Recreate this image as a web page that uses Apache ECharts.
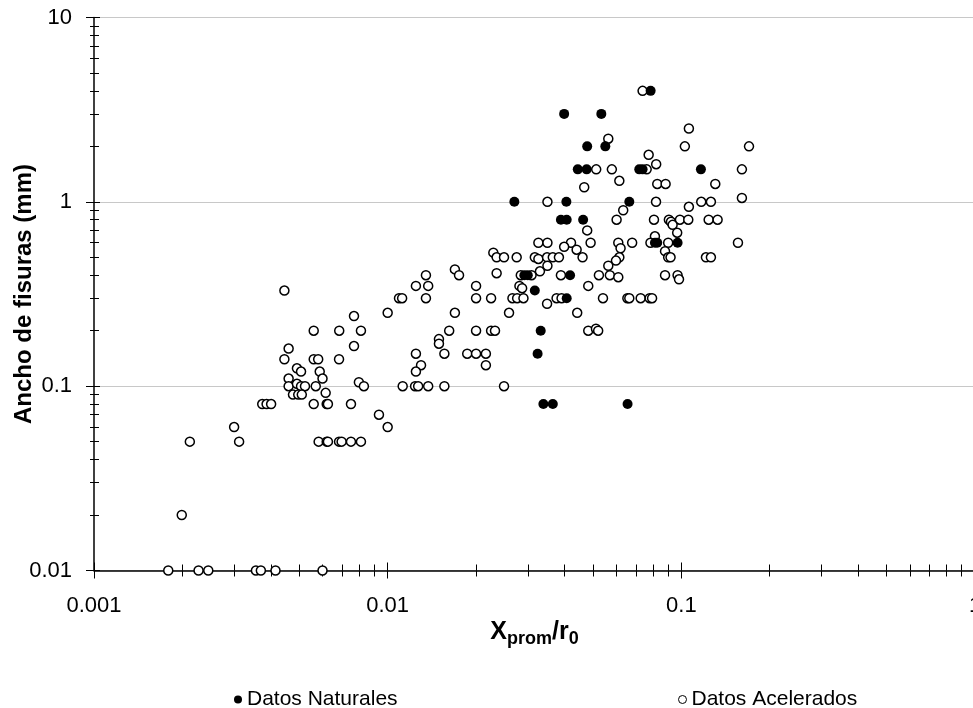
<!DOCTYPE html>
<html>
<head>
<meta charset="utf-8">
<script src="https://cdn.jsdelivr.net/npm/echarts@6/dist/echarts.min.js"></script>
<style>
  html, body { margin: 0; padding: 0; background: #fff; }
  #chart { width: 973px; height: 708px; }
</style>
</head>
<body>
<div id="chart"></div>
<script>
// ejes (log-log)
const xMin = 0.001, xMax = 1;
const yMin = 0.01, yMax = 10;

// [X_prom/r0, ancho de fisura (mm)]
const datosNaturales = [
  [0.0270, 1.0], [0.0406, 1.0], [0.0389, 0.8], [0.0407, 0.8], [0.0463, 0.8],
  [0.0292, 0.4], [0.0300, 0.4], [0.0418, 0.4], [0.0317, 0.33], [0.0407, 0.3],
  [0.0332, 0.2], [0.0324, 0.15], [0.0339, 0.08], [0.0365, 0.08],
  [0.0399, 3], [0.0534, 3], [0.0478, 2], [0.0551, 2], [0.0444, 1.5], [0.0476, 1.5],
  [0.0786, 4], [0.0719, 1.5], [0.0738, 1.5], [0.1166, 1.5], [0.0665, 1.0],
  [0.0813, 0.6], [0.0828, 0.6], [0.0971, 0.6], [0.0656, 0.08]
];

const datosAcelerados = [
  // zona baja
  [0.00445, 0.33], [0.0056, 0.2], [0.00684, 0.2], [0.0046, 0.16], [0.00445, 0.14],
  [0.0056, 0.14], [0.0058, 0.14], [0.00683, 0.14], [0.00491, 0.125], [0.00507, 0.12],
  [0.00587, 0.12], [0.006, 0.11], [0.0046, 0.11], [0.0046, 0.1], [0.00491, 0.103],
  [0.00507, 0.1], [0.00523, 0.1], [0.00476, 0.09], [0.00496, 0.09], [0.0051, 0.09],
  [0.00569, 0.1], [0.00615, 0.092], [0.00374, 0.08], [0.00387, 0.08], [0.00401, 0.08],
  [0.0056, 0.08], [0.0062, 0.08], [0.00626, 0.08], [0.00212, 0.05], [0.00312, 0.05],
  [0.0030, 0.06], [0.00582, 0.05], [0.0062, 0.05], [0.00626, 0.05], [0.00683, 0.05],
  [0.00697, 0.05], [0.00199, 0.02],
  [0.00179, 0.01], [0.00227, 0.01], [0.00245, 0.01], [0.00356, 0.01], [0.0037, 0.01],
  [0.00415, 0.01], [0.006, 0.01],
  // zona media
  [0.0229, 0.53], [0.0235, 0.5], [0.0235, 0.41], [0.01694, 0.43], [0.0175, 0.4],
  [0.0135, 0.4], [0.01248, 0.35], [0.01374, 0.35], [0.0200, 0.35], [0.01093, 0.3],
  [0.0112, 0.3], [0.0135, 0.3], [0.0200, 0.3], [0.0225, 0.3], [0.0100, 0.25],
  [0.01694, 0.25], [0.00768, 0.24], [0.00811, 0.2], [0.0162, 0.2], [0.0200, 0.2],
  [0.0225, 0.2], [0.0232, 0.2], [0.01495, 0.18], [0.01495, 0.17], [0.00768, 0.165],
  [0.01248, 0.15], [0.0156, 0.15], [0.01866, 0.15], [0.0200, 0.15], [0.0216, 0.15],
  [0.0216, 0.13], [0.01299, 0.13], [0.01248, 0.12], [0.00798, 0.105], [0.0083, 0.1],
  [0.01125, 0.1], [0.0124, 0.1], [0.0127, 0.1], [0.01374, 0.1], [0.0156, 0.1],
  [0.0075, 0.08], [0.00934, 0.07], [0.0100, 0.06], [0.0075, 0.05], [0.00811, 0.05],
  // zona alta
  [0.0467, 1.2], [0.0350, 1.0], [0.0602, 0.8], [0.0478, 0.7], [0.0491, 0.6],
  [0.0326, 0.6], [0.0350, 0.6], [0.0421, 0.6], [0.0399, 0.57], [0.0440, 0.55],
  [0.0249, 0.5], [0.0275, 0.5], [0.0317, 0.5], [0.0326, 0.49], [0.0349, 0.5],
  [0.0365, 0.5], [0.0383, 0.5], [0.0461, 0.5], [0.0350, 0.45], [0.0330, 0.42],
  [0.0284, 0.4], [0.0309, 0.4], [0.0389, 0.4], [0.0524, 0.4], [0.0571, 0.4],
  [0.0281, 0.35], [0.0287, 0.34], [0.0482, 0.35], [0.0266, 0.3], [0.0276, 0.3],
  [0.0290, 0.3], [0.0349, 0.28], [0.0376, 0.3], [0.0391, 0.3], [0.0541, 0.3],
  [0.0259, 0.25], [0.0442, 0.25], [0.0482, 0.2], [0.0512, 0.205], [0.0521, 0.2],
  [0.0249, 0.1],
  [0.0564, 2.2], [0.0513, 1.5], [0.0580, 1.5], [0.0615, 1.3],
  [0.0738, 4], [0.1061, 2.5], [0.1028, 2], [0.170, 2], [0.0774, 1.8], [0.0821, 1.6],
  [0.0762, 1.5], [0.1608, 1.5], [0.0828, 1.25], [0.0884, 1.25], [0.1305, 1.25],
  [0.0820, 1.0], [0.1169, 1.0], [0.1261, 1.0], [0.1608, 1.05], [0.0634, 0.9],
  [0.1061, 0.94], [0.0807, 0.8], [0.0907, 0.8], [0.0922, 0.78], [0.0989, 0.8],
  [0.1056, 0.8], [0.1239, 0.8], [0.1329, 0.8], [0.0934, 0.75], [0.0968, 0.68],
  [0.0813, 0.65], [0.061, 0.6], [0.068, 0.6], [0.0785, 0.6], [0.0902, 0.6],
  [0.1559, 0.6], [0.0621, 0.56], [0.0880, 0.54], [0.0615, 0.5], [0.0599, 0.48],
  [0.0564, 0.45], [0.0902, 0.5], [0.0919, 0.5], [0.1213, 0.5], [0.1261, 0.5],
  [0.061, 0.39], [0.0880, 0.4], [0.0971, 0.4], [0.0982, 0.38],
  [0.0655, 0.3], [0.0665, 0.3], [0.0727, 0.3], [0.0780, 0.3], [0.0795, 0.3]
];

const FONT = "'Liberation Sans', Arial, sans-serif";

var myChart = echarts.init(document.getElementById("chart"));

// eje principal: ticks hacia fuera; eje "sombra": ticks hacia dentro (ticks cruzados como en Excel)
function xAxisDef(inside) {
  return {
    type: "log",
    logBase: 10,
    min: xMin,
    max: xMax,
    position: "bottom",
    gridIndex: 0,
    axisLine: { show: !inside, onZero: false, lineStyle: { color: "#000", width: 1.5 } },
    axisTick: { show: true, inside: inside, length: 8, lineStyle: { color: "#000", width: 1 } },
    minorTick: { show: true, splitNumber: 9, length: 6, lineStyle: { color: "#000", width: 1 } },
    axisLabel: {
      show: !inside,
      margin: 24,
      color: "#000",
      fontFamily: FONT,
      fontSize: 22,
      showMaxLabel: true,
    },
    splitLine: { show: false },
    minorSplitLine: { show: false },
  };
}

function yAxisDef(inside) {
  return {
    type: "log",
    logBase: 10,
    min: yMin,
    max: yMax,
    position: "left",
    gridIndex: 0,
    axisLine: { show: !inside, onZero: false, lineStyle: { color: "#000", width: 1.5 } },
    axisTick: { show: true, inside: inside, length: inside ? 6 : 8, lineStyle: { color: "#000", width: 1 } },
    minorTick: { show: true, splitNumber: 9, length: inside ? 5 : 4, lineStyle: { color: "#000", width: 1 } },
    axisLabel: {
      show: !inside,
      margin: 22,
      color: "#000",
      fontFamily: FONT,
      fontSize: 22,
    },
    splitLine: { show: !inside, lineStyle: { color: "#c8c8c8", width: 1 } },
    minorSplitLine: { show: false },
  };
}

const xMain = xAxisDef(false);
xMain.name = "X{sub|prom}/r{sub|0}";
xMain.nameLocation = "middle";
xMain.nameGap = 46;
xMain.nameMoveOverlap = false;
xMain.nameTextStyle = {
  color: "#000",
  fontFamily: FONT,
  fontSize: 25,
  fontWeight: "bold",
  rich: {
    sub: {
      fontFamily: FONT,
      fontSize: 18,
      fontWeight: "bold",
      color: "#000",
      lineHeight: 32,
      verticalAlign: "bottom",
    },
  },
};

const yMain = yAxisDef(false);
yMain.name = "Ancho de fisuras (mm)";
yMain.nameLocation = "middle";
yMain.nameGap = 58;
yMain.nameMoveOverlap = false;
yMain.nameRotate = 90;
yMain.nameTextStyle = {
  color: "#000",
  fontFamily: FONT,
  fontSize: 24,
  fontWeight: "bold",
};

myChart.setOption({
  animation: false,
  backgroundColor: "#fff",
  grid: {
    left: 94, top: 17.5, width: 881, height: 553,
    containLabel: false,
    outerBoundsMode: "none",
  },
  xAxis: [xMain, xAxisDef(true)],
  yAxis: [yMain, yAxisDef(true)],
  legend: [
    {
      data: ["Datos Naturales"],
      left: 229,
      top: 684,
      icon: "circle",
      itemWidth: 8,
      itemHeight: 8,
      textStyle: { color: "#000", fontFamily: FONT, fontSize: 21 },
      selectedMode: false,
    },
    {
      data: ["Datos Acelerados"],
      left: 673,
      top: 684,
      icon: "circle",
      itemWidth: 8,
      itemHeight: 8,
      itemStyle: { color: "#fff", borderColor: "#000", borderWidth: 1 },
      textStyle: { color: "#000", fontFamily: FONT, fontSize: 21 },
      selectedMode: false,
    },
  ],
  series: [
    {
      name: "Datos Acelerados",
      type: "scatter",
      xAxisIndex: 0,
      yAxisIndex: 0,
      data: datosAcelerados,
      symbol: "circle",
      symbolSize: 9,
      itemStyle: { color: "#fff", borderColor: "#000", borderWidth: 1.5, opacity: 1 },
      emphasis: { disabled: true },
    },
    {
      name: "Datos Naturales",
      type: "scatter",
      xAxisIndex: 0,
      yAxisIndex: 0,
      data: datosNaturales,
      symbol: "circle",
      symbolSize: 10,
      itemStyle: { color: "#000", opacity: 1 },
      emphasis: { disabled: true },
    },
  ],
});
</script>
</body>
</html>
